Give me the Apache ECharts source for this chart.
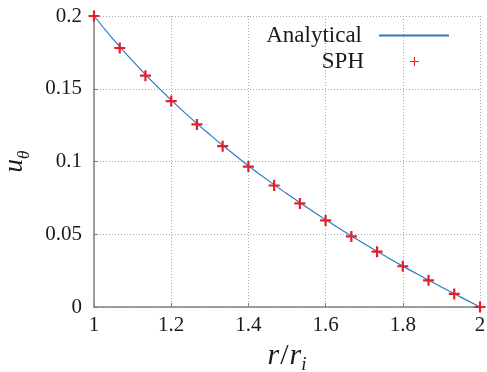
<!DOCTYPE html>
<html>
<head>
<meta charset="utf-8">
<script src="https://cdn.jsdelivr.net/npm/echarts@6/dist/echarts.min.js"></script>
<style>
  html, body { margin: 0; padding: 0; background: #ffffff; }
  #chart { width: 487px; height: 372px; }
</style>
</head>
<body>
<div id="chart"></div>
<script>
// Radius ratio r/r_i for the analytical velocity profile
const analyticalR = [1.00, 1.05, 1.10, 1.15, 1.20, 1.25, 1.30, 1.35, 1.40, 1.45, 1.50,
                     1.55, 1.60, 1.65, 1.70, 1.75, 1.80, 1.85, 1.90, 1.95, 2.00];
// Azimuthal velocity u_theta, analytical profile
const analyticalU = [0.2000, 0.1840, 0.1691, 0.1552, 0.1422, 0.1300, 0.1185, 0.1075, 0.0971,
                     0.0872, 0.0778, 0.0687, 0.0600, 0.0516, 0.0435, 0.0357, 0.0281, 0.0208,
                     0.0137, 0.0068, 0.0000];
// SPH particle samples
const sphR = [1.0000, 1.0667, 1.1333, 1.2000, 1.2667, 1.3333, 1.4000, 1.4667,
              1.5333, 1.6000, 1.6667, 1.7333, 1.8000, 1.8667, 1.9333, 2.0000];
const sphU = [0.2000, 0.1780, 0.1590, 0.1415, 0.1255, 0.1105, 0.0965, 0.0835,
              0.0712, 0.0595, 0.0485, 0.0380, 0.0280, 0.0183, 0.0090, 0.0000];
// Axis ticks
const xTicks = [1, 1.2, 1.4, 1.6, 1.8, 2];
const yTicks = [0, 0.05, 0.1, 0.15, 0.2];

const serif = 'Liberation Serif';
const ink = '#1a1a1a';
const lineColor = '#2a7bc4';
const markColor = '#e3202a';
const plusPath = 'path://M4,0H6V4H10V6H6V10H4V6H0V4H4Z';
const thinPlus = 'path://M4.4,0H5.6V4.4H10V5.6H5.6V10H4.4V5.6H0V4.4H4.4Z';

const chart = echarts.init(document.getElementById('chart'), null, { renderer: 'canvas' });

const gridLine = { show: true, lineStyle: { color: '#aaaaaa', type: [1, 2], width: 1 } };
const axisLine = { show: true, onZero: false, lineStyle: { color: '#808080', width: 1.5 } };
const axisTick = { show: true, inside: true, length: 4, lineStyle: { color: '#808080' } };

chart.setOption({
  animation: false,
  backgroundColor: '#ffffff',
  grid: { left: 94, right: 7, top: 16, bottom: 65, containLabel: false, outerBoundsMode: 'none' },
  xAxis: {
    type: 'value',
    min: xTicks[0],
    max: xTicks[xTicks.length - 1],
    interval: 0.2,
    axisLine, axisTick, splitLine: gridLine,
    axisLabel: {
      margin: 8,
      fontFamily: serif, fontSize: 21, color: ink,
      formatter: v => String(+v.toFixed(2))
    },
    name: '{a|r}{b|/}{a|r}{s|i}',
    nameLocation: 'middle',
    nameGap: 32,
    nameTextStyle: {
      rich: {
        a: { fontFamily: serif, fontStyle: 'italic', fontSize: 30, color: ink, padding: [0, 0, 4, 0] },
        b: { fontFamily: serif, fontSize: 30, color: ink, padding: [0, 1, 4, 1] },
        s: { fontFamily: serif, fontStyle: 'italic', fontSize: 19, color: ink, verticalAlign: 'bottom' }
      }
    }
  },
  yAxis: {
    type: 'value',
    min: yTicks[0],
    max: yTicks[yTicks.length - 1],
    interval: 0.05,
    axisLine, axisTick, splitLine: gridLine,
    axisLabel: {
      margin: 12,
      fontFamily: serif, fontSize: 21, color: ink,
      formatter: v => String(+v.toFixed(2))
    },
    name: '{a|u}{s|θ}',
    nameLocation: 'middle',
    nameRotate: 90,
    nameGap: 61,
    nameTextStyle: {
      rich: {
        a: { fontFamily: serif, fontStyle: 'italic', fontSize: 27, color: ink, padding: [0, 0, 5, 0] },
        s: { fontFamily: serif, fontStyle: 'italic', fontSize: 17, color: ink, verticalAlign: 'bottom' }
      }
    }
  },
  legend: [
    {
      data: [{ name: 'Analytical', icon: 'rect' }],
      right: 38, top: 24,
      align: 'right',
      itemWidth: 70, itemHeight: 2,
      padding: 0,
      textStyle: { fontFamily: serif, fontSize: 23, color: ink, padding: [0, 12, 0, 0] },
      selectedMode: false
    },
    {
      data: [{ name: 'SPH', icon: thinPlus }],
      right: 68, top: 50,
      align: 'right',
      itemWidth: 9, itemHeight: 9,
      padding: 0,
      textStyle: { fontFamily: serif, fontSize: 23, color: ink, padding: [0, 41, 0, 0] },
      selectedMode: false
    }
  ],
  series: [
    {
      name: 'Analytical',
      type: 'line',
      data: analyticalR.map((r, i) => [r, analyticalU[i]]),
      smooth: true,
      showSymbol: false,
      lineStyle: { color: lineColor, width: 1.2 },
      itemStyle: { color: lineColor },
      z: 2
    },
    {
      name: 'SPH',
      type: 'scatter',
      data: sphR.map((r, i) => [r, sphU[i]]),
      symbol: plusPath,
      symbolSize: 11,
      itemStyle: { color: markColor, opacity: 1 },
      clip: false,
      z: 3
    }
  ]
});
</script>
</body>
</html>
